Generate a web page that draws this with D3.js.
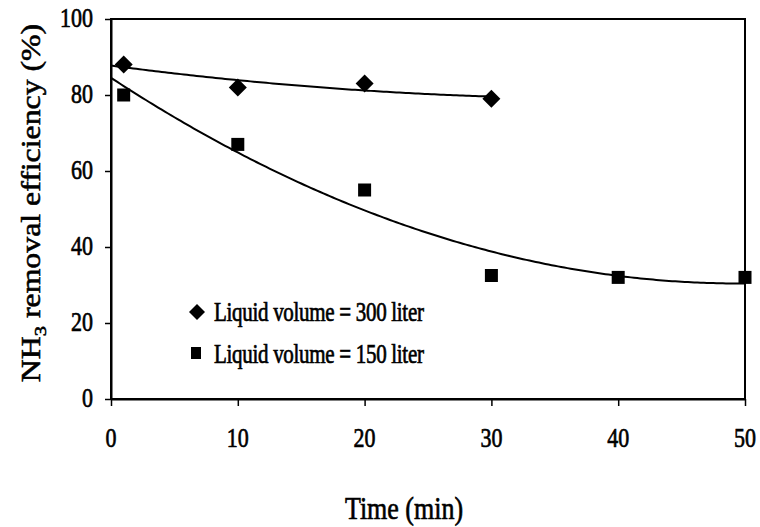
<!DOCTYPE html>
<html>
<head>
<meta charset="utf-8">
<script src="https://cdn.jsdelivr.net/npm/d3@7"></script>
<style>
  html, body { margin: 0; padding: 0; background: #fff; }
  svg { display: block; }
  text { font-family: "Liberation Serif", "Times New Roman", serif; fill: #000; stroke: #000; stroke-width: 0.55px; }
</style>
</head>
<body>
<svg id="chart" width="760" height="527"></svg>
<script>
// Sampling times (min)
const time300 = [1, 10, 20, 30];
const time150 = [1, 10, 20, 30, 40, 50];
// NH3 removal efficiency (%)
const eff300 = [88, 82, 83, 79];
const eff150 = [80, 67, 55, 32.5, 32, 32];
// Axis ticks
const xTicks = [0, 10, 20, 30, 40, 50];
const yTicks = [0, 20, 40, 60, 80, 100];
// Legend entries
const seriesNames = ["Liquid volume = 300 liter", "Liquid volume = 150 liter"];

const W = 760, H = 527;
const plot = { left: 111, right: 745, top: 19, bottom: 399 };
const TEXT_STRETCH = 1.2;

const svg = d3.select("#chart");
const x = d3.scaleLinear().domain([0, 50]).range([plot.left, plot.right]);
const y = d3.scaleLinear().domain([0, 100]).range([plot.bottom, plot.top]);

// Least-squares polynomial (degree 2) trendline
function polyFit(xs, ys, deg) {
  const n = deg + 1;
  const A = Array.from({ length: n }, () => new Array(n + 1).fill(0));
  for (let r = 0; r < n; r++) {
    for (let c = 0; c < n; c++) {
      A[r][c] = d3.sum(xs, v => Math.pow(v, r + c));
    }
    A[r][n] = d3.sum(xs, (v, i) => Math.pow(v, r) * ys[i]);
  }
  for (let i = 0; i < n; i++) {
    let p = i;
    for (let k = i + 1; k < n; k++) if (Math.abs(A[k][i]) > Math.abs(A[p][i])) p = k;
    [A[i], A[p]] = [A[p], A[i]];
    for (let k = i + 1; k < n; k++) {
      const f = A[k][i] / A[i][i];
      for (let c = i; c <= n; c++) A[k][c] -= f * A[i][c];
    }
  }
  const coef = new Array(n).fill(0);
  for (let i = n - 1; i >= 0; i--) {
    let s = A[i][n];
    for (let c = i + 1; c < n; c++) s -= A[i][c] * coef[c];
    coef[i] = s / A[i][i];
  }
  return t => coef.reduce((acc, a, k) => acc + a * Math.pow(t, k), 0);
}

// Plot frame (top and right edges)
svg.append("rect")
  .attr("x", plot.left).attr("y", plot.top)
  .attr("width", plot.right - plot.left).attr("height", plot.bottom - plot.top)
  .attr("fill", "none").attr("stroke", "#000").attr("stroke-width", 2);

// Axes
const xAxis = svg.append("g")
  .attr("transform", `translate(0,${plot.bottom})`)
  .call(d3.axisBottom(x).tickValues(xTicks).tickSizeInner(7).tickSizeOuter(0).tickFormat(""));
const yAxis = svg.append("g")
  .attr("transform", `translate(${plot.left},0)`)
  .call(d3.axisLeft(y).tickValues(yTicks).tickSizeInner(6).tickSizeOuter(0).tickFormat(""));
[xAxis, yAxis].forEach(g => {
  g.select(".domain").attr("stroke", "#000").attr("stroke-width", 2);
  g.selectAll(".tick line").attr("stroke", "#000").attr("stroke-width", 1.5);
});

// Tick labels (slightly tall serif lettering)
svg.append("g").selectAll("text").data(xTicks).join("text")
  .attr("transform", d => `translate(${x(d)},447) scale(1,${TEXT_STRETCH})`)
  .attr("text-anchor", "middle")
  .attr("font-size", 22)
  .text(d => d);
svg.append("g").selectAll("text").data(yTicks).join("text")
  .attr("transform", d => `translate(93,${y(d) + 7.5}) scale(1,${TEXT_STRETCH})`)
  .attr("text-anchor", "end")
  .attr("font-size", 22)
  .text(d => d);

// Axis titles
svg.append("text")
  .attr("transform", `translate(404,519) scale(1,${TEXT_STRETCH})`)
  .attr("text-anchor", "middle")
  .attr("font-size", 26)
  .text("Time (min)");

const yTitle = svg.append("text")
  .attr("transform", `translate(40,203) rotate(-90) scale(${TEXT_STRETCH},1)`)
  .attr("text-anchor", "middle")
  .attr("font-size", 26.5);
yTitle.append("tspan").text("NH");
yTitle.append("tspan").attr("font-size", 17).attr("dy", 6).text("3");
yTitle.append("tspan").attr("dy", -6).text(" removal efficiency (%)");

// Trendlines
const line = d3.line().x(d => x(d[0])).y(d => y(d[1]));
const fit300 = polyFit(time300, eff300, 2);
const fit150 = polyFit(time150, eff150, 2);
const t300 = d3.range(0, 30.001, 0.25);
const t150 = d3.range(0, 50.001, 0.25);
svg.append("path").datum(t300.map(t => [t, fit300(t)]))
  .attr("d", line).attr("fill", "none").attr("stroke", "#000").attr("stroke-width", 2);
svg.append("path").datum(t150.map(t => [t, fit150(t)]))
  .attr("d", line).attr("fill", "none").attr("stroke", "#000").attr("stroke-width", 2);

// Markers
const diamond = r => `M0,${-r}L${r},0L0,${r}L${-r},0Z`;
svg.append("g").selectAll("path").data(time300.map((t, i) => [t, eff300[i]])).join("path")
  .attr("transform", d => `translate(${x(d[0])},${y(d[1])})`)
  .attr("d", diamond(9))
  .attr("fill", "#000");
svg.append("g").selectAll("rect").data(time150.map((t, i) => [t, eff150[i]])).join("rect")
  .attr("x", d => x(d[0]) - 6.5).attr("y", d => y(d[1]) - 6.5)
  .attr("width", 13).attr("height", 13)
  .attr("fill", "#000");

// Legend
const legend = svg.append("g");
legend.append("path")
  .attr("transform", "translate(197,312)")
  .attr("d", diamond(8))
  .attr("fill", "#000");
legend.append("rect")
  .attr("x", 191).attr("y", 347).attr("width", 10).attr("height", 12)
  .attr("fill", "#000");
legend.selectAll("text").data(seriesNames).join("text")
  .attr("transform", (d, i) => `translate(214,${321 + i * 42}) scale(1,${TEXT_STRETCH + 0.05})`)
  .attr("font-size", 21)
  .attr("letter-spacing", -0.3)
  .text(d => d);
</script>
</body>
</html>
